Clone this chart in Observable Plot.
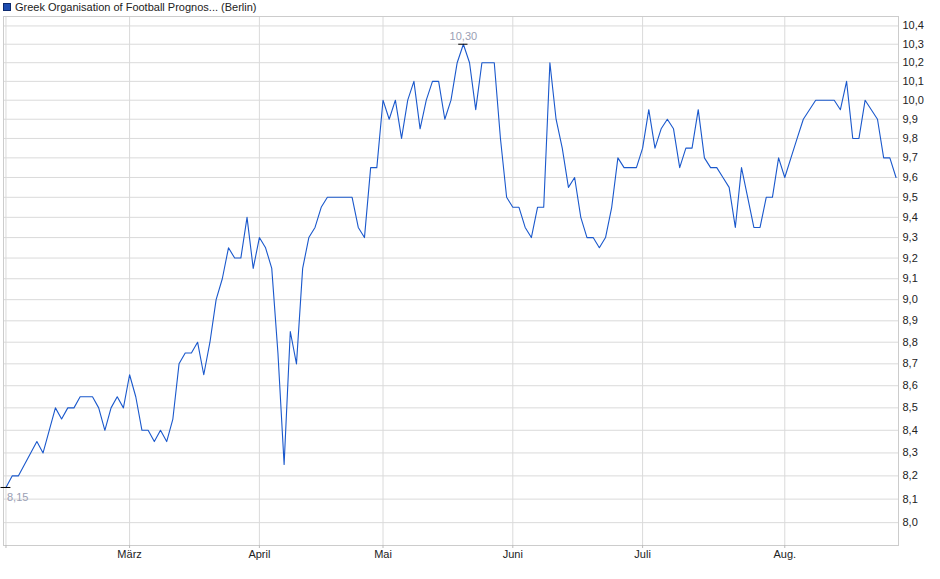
<!DOCTYPE html>
<html>
<head>
<meta charset="utf-8">
<script src="https://cdn.jsdelivr.net/npm/d3@7"></script>
<script src="https://cdn.jsdelivr.net/npm/@observablehq/plot@0.6"></script>
<style>
  html, body { margin: 0; padding: 0; background: #fff; }
  #wrap { position: relative; width: 940px; height: 579px; overflow: hidden; }
  #legend { position: absolute; left: 3px; top: 0px; height: 14px; font: 11px "Liberation Sans", Arial, sans-serif; color: #222; display: flex; align-items: center; white-space: nowrap; }
  #legend .sw { display: inline-block; width: 6px; height: 6px; background: #1d4cb0; border: 1px solid #0d2a6e; margin-right: 4px; }
</style>
</head>
<body>
<div id="wrap">
  <div id="chart"></div>
  <div id="legend"><span class="sw"></span>Greek Organisation of Football Prognos... (Berlin)</div>
</div>
<script>
// Daily closing prices (Berlin)
const prices = [
  8.15, 8.2, 8.2, 8.25, 8.3, 8.35, 8.3, 8.4, 8.5, 8.45,
  8.5, 8.5, 8.55, 8.55, 8.55, 8.5, 8.4, 8.5, 8.55, 8.5,
  8.65, 8.55, 8.4, 8.4, 8.35, 8.4, 8.35, 8.45, 8.7, 8.75,
  8.75, 8.8, 8.65, 8.8, 9.0, 9.1, 9.25, 9.2, 9.2, 9.4,
  9.15, 9.3, 9.25, 9.15, 8.75, 8.25, 8.85, 8.7, 9.15, 9.3,
  9.35, 9.45, 9.5, 9.5, 9.5, 9.5, 9.5, 9.35, 9.3, 9.65,
  9.65, 10.0, 9.9, 10.0, 9.8, 10.0, 10.1, 9.85, 10.0, 10.1,
  10.1, 9.9, 10.0, 10.2, 10.3, 10.2, 9.95, 10.2, 10.2, 10.2,
  9.8, 9.5, 9.45, 9.45, 9.35, 9.3, 9.45, 9.45, 10.2, 9.9,
  9.75, 9.55, 9.6, 9.4, 9.3, 9.3, 9.25, 9.3, 9.45, 9.7,
  9.65, 9.65, 9.65, 9.75, 9.95, 9.75, 9.85, 9.9, 9.85, 9.65,
  9.75, 9.75, 9.95, 9.7, 9.65, 9.65, 9.6, 9.55, 9.35, 9.65,
  9.5, 9.35, 9.35, 9.5, 9.5, 9.7, 9.6, 9.7, 9.8, 9.9,
  9.95, 10.0, 10.0, 10.0, 10.0, 9.95, 10.1, 9.8, 9.8, 10.0,
  9.95, 9.9, 9.7, 9.7, 9.6
];
// Index of the first trading day of each month, and month labels
const monthStarts = [0, 20, 41, 61, 82, 103, 126];
const monthLabels = ["", "März", "April", "Mai", "Juni", "Juli", "Aug."];
// Right-hand axis ticks
const yTicks = [8.0, 8.1, 8.2, 8.3, 8.4, 8.5, 8.6, 8.7, 8.8, 8.9, 9.0, 9.1, 9.2,
  9.3, 9.4, 9.5, 9.6, 9.7, 9.8, 9.9, 10.0, 10.1, 10.2, 10.3, 10.4];

const data = prices.map((v, i) => ({i, v}));
let minI = 0, maxI = 0;
prices.forEach((v, i) => { if (v < prices[minI]) minI = i; if (v > prices[maxI]) maxI = i; });
const lowPt = [{i: minI, v: prices[minI]}];
const highPt = [{i: maxI, v: prices[maxI]}];
const fmt = d => d.toFixed(2).replace(".", ",");

const chart = Plot.plot({
  width: 940,
  height: 579,
  marginLeft: 3,
  marginRight: 42,
  marginTop: 16,
  marginBottom: 34,
  x: {type: "linear", domain: [-0.4, 144.4], label: null},
  y: {type: "log", domain: [7.904, 10.452], label: null},
  style: {fontFamily: "'Liberation Sans', Arial, sans-serif", fontSize: "11px", background: "#fff", color: "#222"},
  marks: [
    Plot.gridY(yTicks, {stroke: "#dadada", strokeOpacity: 1}),
    Plot.gridX(monthStarts, {stroke: "#dadada", strokeOpacity: 1}),
    Plot.frame({stroke: "#cccccc"}),
    Plot.axisY(yTicks, {anchor: "right", tickSize: 0, tickPadding: 4, textAnchor: "start", label: null,
      tickFormat: d => d.toFixed(1).replace(".", ","), fill: "#222"}),
    Plot.axisX(monthStarts, {anchor: "bottom", tickSize: 3, tickPadding: 2, stroke: "#bbbbbb", fill: "#222", label: null,
      tickFormat: d => monthLabels[monthStarts.indexOf(d)]}),
    Plot.line(data, {x: "i", y: "v", stroke: "#1a58cc", strokeWidth: 1.1}),
    Plot.ruleY(lowPt, {y: "v", x1: d => d.i - 0.8, x2: d => d.i + 0.8, stroke: "#000"}),
    Plot.ruleY(highPt, {y: "v", x1: d => d.i - 0.75, x2: d => d.i + 0.75, stroke: "#000"}),
    Plot.text(lowPt, {x: "i", y: "v", text: d => fmt(d.v), dy: 10, dx: 1, textAnchor: "start", fill: "#9aa0b4"}),
    Plot.text(highPt, {x: "i", y: "v", text: d => fmt(d.v), dy: -8, textAnchor: "middle", fill: "#9aa0b4"})
  ]
});
document.getElementById("chart").appendChild(chart);
</script>
</body>
</html>
